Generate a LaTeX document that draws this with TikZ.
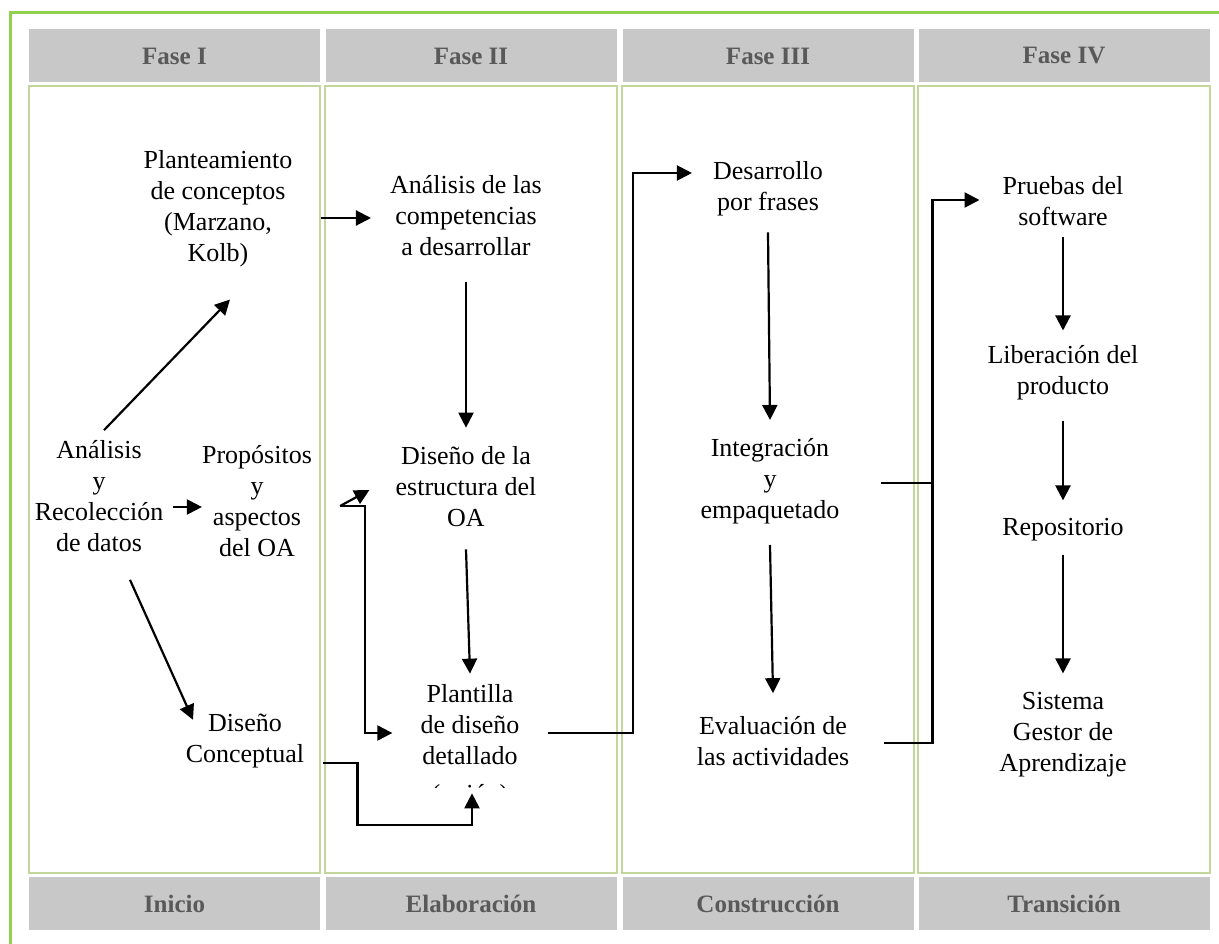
\documentclass[tikz,border=0pt]{standalone}
\usepackage{fontspec}
\setmainfont{Liberation Serif}
\usetikzlibrary{arrows.meta}
\definecolor{framegreen}{HTML}{92D050}
\definecolor{boxgreen}{HTML}{C3D69B}
\definecolor{headgrey}{HTML}{C8C8C8}
\definecolor{headtext}{HTML}{595959}

\begin{document}
\begin{tikzpicture}[x=1pt,y=1pt,
		every node/.style={inner sep=0pt,align=center,font=\fontsize{26}{31}\selectfont},
		phase/.style={fill=headgrey,minimum width=291pt,minimum height=53pt,text=headtext,font=\fontsize{25}{30}\selectfont\bfseries},
		column/.style={draw=boxgreen,line width=2.5pt},
		flow/.style={line width=2.2pt,-{Triangle[length=15pt,width=15pt]}},
		link/.style={line width=2.2pt}]
		\useasboundingbox (0,0) rectangle (1219,-944);
		\draw [framegreen,line width=3pt] (10,-944) -- (10,-13) -- (1219,-13);
		\draw [column] (29,-86) rectangle (320,-873);
		\draw [column] (325,-86) rectangle (617,-873);
		\draw [column] (622,-86) rectangle (914,-873);
		\draw [column] (918,-86) rectangle (1210,-873);
		\node [phase] (fase1) at (174.5,-56) {Fase I};
		\node [phase] (fase2) at (471,-56) {Fase II};
		\node [phase] (fase3) at (768,-56) {Fase III};
		\node [phase] (fase4) at (1064,-56) {Fase IV};
		\node [phase] (inicio) at (174.5,-903.5) {Inicio};
		\node [phase] (elab) at (471,-903.5) {Elaboración};
		\node [phase] (const) at (768,-903.5) {Construcción};
		\node [phase] (trans) at (1064,-903.5) {Transición};
		\node (plan) at (218,-209) {Planteamiento\\de conceptos\\(Marzano,\\Kolb)};
		\node (anal) at (99,-496) {Análisis\\y\\Recolección\\de datos};
		\node (prop) at (257,-501) {Propósitos\\y\\aspectos\\del OA};
		\node (dcon) at (245,-741) {Diseño\\Conceptual};
		\node (comp) at (466,-216) {Análisis de las\\competencias\\a desarrollar};
		\node (estr) at (466,-487) {Diseño de la\\estructura del\\OA};
		\node (plant) at (470,-725) {Plantilla\\de diseño\\detallado};
		\begin{scope}
			\clip (400,-779) rectangle (540,-787);
			\node [anchor=base] (guion) at (470,-802) {(guión)};
		\end{scope}
		\node (desa) at (768,-189) {Desarrollo\\por frases};
		\node (inte) at (770,-481) {Integración\\y\\empaquetado};
		\node (eval) at (773,-741) {Evaluación de\\las actividades};
		\node (prue) at (1063,-201) {Pruebas del\\software};
		\node (libe) at (1063,-373) {Liberación del\\producto};
		\node (repo) at (1063,-530) {Repositorio};
		\node (sist) at (1063,-735) {Sistema\\Gestor de\\Aprendizaje};
		\coordinate (split) at ([shift={(28,-5)}]prop.east);
		\coordinate (join) at ([shift={(93,-2)}]inte.east);
		\draw [flow] ([shift={(5,10)}]anal.north) -- ([shift={(12,-32)}]plan.south);
		\draw [flow] ([shift={(10,-11)}]anal.east) -- ([yshift=-6]prop.west);
		\draw [flow] ([shift={(31,-28)}]anal.south) -- ([shift={(-52,-6)}]dcon.north);
		\draw [flow] ([shift={(28,-9)}]plan.east) -- ([shift={(-19,-2)}]comp.west);
		\draw [flow] (split) -- ([shift={(-26,-3)}]estr.west);
		\draw [flow] (split) -- ++(25,0) |- ([shift={(-28,-8)}]plant.west);
		\draw [flow] ([shift={(19,-22)}]dcon.east) -- ++(34,0) |- ([shift={(2,-60)}]plant.south) -- ([shift={(2,-28)}]plant.south);
		\draw [flow] ([yshift=-26]comp.south) -- ([yshift=19]estr.north);
		\draw [flow] ([yshift=-22]estr.south) -- ([yshift=11]plant.north);
		\draw [flow] ([shift={(28,-8)}]plant.east) -- ++(85,0) |- ([shift={(-21,16)}]desa.west);
		\draw [flow] ([yshift=-16]desa.south) -- ([yshift=18]inte.north);
		\draw [flow] ([yshift=-21]inte.south) -- ([yshift=23]eval.north);
		\draw [flow] ([shift={(41,-2)}]inte.east) -- (join) |- ([shift={(-23,1)}]prue.west);
		\draw [link] ([shift={(35,-2)}]eval.east) -| (join);
		\draw [flow] ([yshift=-11]prue.south) -- ([yshift=15]libe.north);
		\draw [flow] ([yshift=-20]libe.south) -- ([yshift=18]repo.north);
		\draw [flow] ([yshift=-13]repo.south) -- ([yshift=19]sist.north);
	\end{tikzpicture}
\end{document}
